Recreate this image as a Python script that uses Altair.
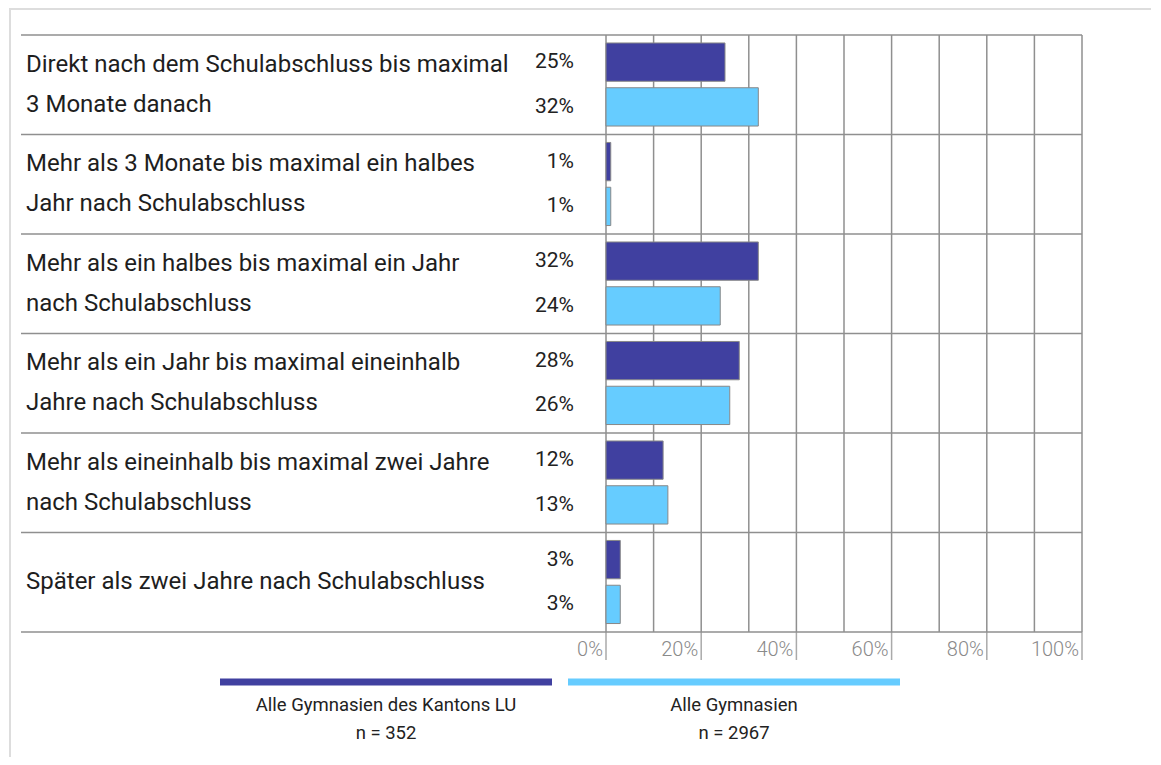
import altair as alt
import pandas as pd

categories = [
    ["Direkt nach dem Schulabschluss bis maximal", "3 Monate danach"],
    ["Mehr als 3 Monate bis maximal ein halbes", "Jahr nach Schulabschluss"],
    ["Mehr als ein halbes bis maximal ein Jahr", "nach Schulabschluss"],
    ["Mehr als ein Jahr bis maximal eineinhalb", "Jahre nach Schulabschluss"],
    ["Mehr als eineinhalb bis maximal zwei Jahre", "nach Schulabschluss"],
    ["Später als zwei Jahre nach Schulabschluss"],
]
series = ["Alle Gymnasien des Kantons LU", "Alle Gymnasien"]
series_n = ["n = 352", "n = 2967"]
colors = ["#4040A0", "#66CCFF"]
values_lu = [25, 1, 32, 28, 12, 3]
values_all = [32, 1, 24, 26, 13, 3]
grid_values = [0, 10, 20, 30, 40, 50, 60, 70, 80, 90, 100]
tick_values = [0, 20, 40, 60, 80, 100]

# layout (fractions of a group row)
BAR_START = [0.08, 0.53]
BAR_H = 0.385
LINE_GAP = 0.4
FONT = "Roboto"
W, H = 476, 597

rows = []
for i in range(len(categories)):
    for j, vals in enumerate([values_lu, values_all]):
        rows.append({"series": series[j], "value": vals[i],
                     "y0": i + BAR_START[j], "y1": i + BAR_START[j] + BAR_H,
                     "ym": i + BAR_START[j] + BAR_H / 2,
                     "label": f"{vals[i]}%"})
df = pd.DataFrame(rows)

line_rows = []
for i, lines in enumerate(categories):
    n = len(lines)
    for k, t in enumerate(lines):
        line_rows.append({"text": t, "ly": i + 0.5 + (k - (n - 1) / 2) * LINE_GAP})
lines_df = pd.DataFrame(line_rows)

sep_df = pd.DataFrame({"b": list(range(len(categories) + 1))})
grid_df = pd.DataFrame({"g": grid_values})
tick_df = pd.DataFrame({"t": tick_values, "tl": [f"{v}%" for v in tick_values]})

xscale = alt.Scale(domain=[0, 100], nice=False, zero=True)
yscale = alt.Scale(domain=[0, len(categories)], reverse=True, nice=False, zero=False)
GRID = "#8f8f8f"

gridlines = alt.Chart(grid_df).mark_rule(color=GRID, strokeWidth=1.5).encode(
    x=alt.X("g:Q", scale=xscale, axis=None),
    y=alt.value(0), y2=alt.value(H),
)
ticks = alt.Chart(tick_df).mark_rule(color="#aaaaaa", strokeWidth=1.5).encode(
    x=alt.X("t:Q", scale=xscale, axis=None),
    y=alt.value(H), y2=alt.value(H + 28),
)
tick_labels = alt.Chart(tick_df).mark_text(
    align="right", baseline="middle", dx=-3, fontSize=20, font=FONT,
    fontWeight=300, color="#8a8a8a").encode(
    x=alt.X("t:Q", scale=xscale, axis=None),
    y=alt.value(H + 18),
    text="tl:N",
)

seps = alt.Chart(sep_df).mark_rule(color=GRID, strokeWidth=1.5).encode(
    y=alt.Y("b:Q", scale=yscale, axis=None),
    x=alt.value(-585),
    x2=alt.value(W),
)

bars = alt.Chart(df).mark_bar(stroke="#888888", strokeWidth=1).encode(
    x=alt.X("value:Q", scale=xscale, axis=None),
    x2=alt.datum(0),
    y=alt.Y("y0:Q", scale=yscale, axis=None),
    y2="y1",
    color=alt.Color("series:N", sort=series,
                    scale=alt.Scale(domain=series, range=colors), legend=None),
)

pct = alt.Chart(df).mark_text(align="right", baseline="middle", fontSize=21, font=FONT,
                              color="#222222").encode(
    y=alt.Y("ym:Q", scale=yscale, axis=None),
    x=alt.value(-32),
    text="label:N",
)

cat_labels = alt.Chart(lines_df).mark_text(
    align="left", baseline="middle", fontSize=24, font=FONT,
    color="#1e1e1e").encode(
    y=alt.Y("ly:Q", scale=yscale, axis=None),
    x=alt.value(-580),
    text="text:N",
)

# outer frame (light page border)
frame_top = alt.Chart(sep_df).mark_rule(color="#dddddd", strokeWidth=2).encode(
    y=alt.value(-26), x=alt.value(-597), x2=alt.value(545))
frame_left = alt.Chart(sep_df).mark_rule(color="#dddddd", strokeWidth=2).encode(
    x=alt.value(-596), y=alt.value(-26), y2=alt.value(722))

# legend
leg_layers = []
leg_x = [(-386, -54), (-38, 294)]
for i, s in enumerate(series):
    x0, x1 = leg_x[i]
    ldf = pd.DataFrame({"name": [s], "n": [series_n[i]]})
    leg_layers.append(alt.Chart(ldf).mark_rule(color=colors[i], strokeWidth=7).encode(
        y=alt.value(647), x=alt.value(x0), x2=alt.value(x1)))
    leg_layers.append(alt.Chart(ldf).mark_text(fontSize=18.5, font=FONT, color="#222222",
                                               baseline="middle").encode(
        x=alt.value((x0 + x1) / 2), y=alt.value(670), text="name:N"))
    leg_layers.append(alt.Chart(ldf).mark_text(fontSize=18.5, font=FONT, color="#222222",
                                               baseline="middle").encode(
        x=alt.value((x0 + x1) / 2), y=alt.value(698), text="n:N"))

chart = alt.layer(
    gridlines, ticks, tick_labels, seps, bars, pct, cat_labels,
    frame_top, frame_left, *leg_layers
).properties(
    width=W, height=H, padding=0,
).configure(background="white").configure_view(strokeWidth=0)

chart.save("out.html", embed_options={"renderer": "svg", "actions": False})
